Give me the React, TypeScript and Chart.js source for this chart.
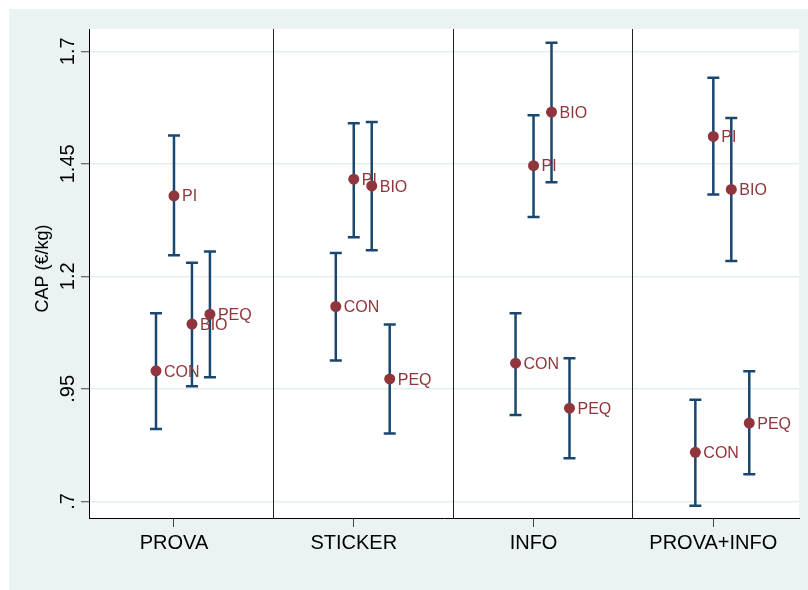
import React, { useEffect, useRef } from "react";
import { Chart, registerables } from "chart.js";

Chart.register(...registerables);

// Categories (treatments) and series
const groups = ["PROVA", "STICKER", "INFO", "PROVA+INFO"];
const seriesNames = ["CON", "PI", "BIO", "PEQ"];
const seriesOffset = [-0.1, 0, 0.1, 0.2];

// Means and confidence intervals, per series, per group
const conMean = [0.99, 1.133, 1.007, 0.809];
const conLow = [0.861, 1.013, 0.892, 0.69];
const conHigh = [1.118, 1.252, 1.118, 0.926];

const piMean = [1.379, 1.416, 1.446, 1.511];
const piLow = [1.247, 1.287, 1.332, 1.382];
const piHigh = [1.513, 1.54, 1.558, 1.641];

const bioMean = [1.094, 1.401, 1.565, 1.393];
const bioLow = [0.956, 1.258, 1.409, 1.234];
const bioHigh = [1.23, 1.543, 1.719, 1.552];

const peqMean = [1.116, 0.972, 0.907, 0.874];
const peqLow = [0.976, 0.851, 0.796, 0.76];
const peqHigh = [1.255, 1.093, 1.018, 0.989];

const yTicks = [0.7, 0.95, 1.2, 1.45, 1.7];
const yTickLabels = [".7", ".95", "1.2", "1.45", "1.7"];
const separators = [1.55, 2.55, 3.55];
const yTitle = "CAP (€/kg)";

const means = [conMean, piMean, bioMean, peqMean];
const lows = [conLow, piLow, bioLow, peqLow];
const highs = [conHigh, piHigh, bioHigh, peqHigh];

const BG = "#EAF2F3";
const NAVY = "#1A476F";
const MAROON = "#90353B";
const FONT = "'Liberation Sans', Arial, sans-serif";

export default function App() {
  const ref = useRef<HTMLCanvasElement | null>(null);

  useEffect(() => {
    const canvas = ref.current;
    if (!canvas) return;

    const datasets = seriesNames.map((name, s) => ({
      label: name,
      data: groups.map((_, g) => ({ x: g + 1 + seriesOffset[s], y: means[s][g] })),
      pointRadius: 5.5,
      pointHoverRadius: 5.5,
      pointBackgroundColor: MAROON,
      pointBorderWidth: 0,
      borderColor: MAROON,
      showLine: false,
    }));

    const decor = {
      id: "decor",
      beforeDraw(chart: any) {
        const ctx = chart.ctx;
        const a = chart.chartArea;
        ctx.save();
        ctx.fillStyle = "#ffffff";
        ctx.fillRect(0, 0, chart.width, chart.height);
        ctx.fillStyle = BG;
        ctx.fillRect(9, 9, chart.width - 9, chart.height - 9);
        ctx.fillStyle = "#ffffff";
        ctx.fillRect(a.left, a.top, a.right - a.left, a.bottom - a.top);
        ctx.restore();
      },
      beforeDatasetsDraw(chart: any) {
        const ctx = chart.ctx;
        const a = chart.chartArea;
        const xs = chart.scales.x;
        const ys = chart.scales.y;
        ctx.save();
        // panel separators
        ctx.strokeStyle = "#222";
        ctx.lineWidth = 1;
        separators.forEach((v) => {
          const px = Math.round(xs.getPixelForValue(v)) + 0.5;
          ctx.beginPath();
          ctx.moveTo(px, a.top);
          ctx.lineTo(px, a.bottom);
          ctx.stroke();
        });
        // error bars
        ctx.strokeStyle = NAVY;
        ctx.lineWidth = 2.5;
        seriesNames.forEach((_, s) => {
          groups.forEach((_, g) => {
            const px = xs.getPixelForValue(g + 1 + seriesOffset[s]);
            const yl = ys.getPixelForValue(lows[s][g]);
            const yh = ys.getPixelForValue(highs[s][g]);
            ctx.beginPath();
            ctx.moveTo(px, yl);
            ctx.lineTo(px, yh);
            ctx.moveTo(px - 6, yl);
            ctx.lineTo(px + 6, yl);
            ctx.moveTo(px - 6, yh);
            ctx.lineTo(px + 6, yh);
            ctx.stroke();
          });
        });
        ctx.restore();
      },
      afterDatasetsDraw(chart: any) {
        const ctx = chart.ctx;
        const xs = chart.scales.x;
        const ys = chart.scales.y;
        ctx.save();
        // point labels
        ctx.fillStyle = MAROON;
        ctx.font = `16px ${FONT}`;
        ctx.textAlign = "left";
        ctx.textBaseline = "alphabetic";
        seriesNames.forEach((name, s) => {
          groups.forEach((_, g) => {
            const px = xs.getPixelForValue(g + 1 + seriesOffset[s]);
            const py = ys.getPixelForValue(means[s][g]);
            ctx.fillText(name, px + 8, py + 5.7);
          });
        });
        // y tick labels (rotated)
        ctx.fillStyle = "#000";
        ctx.font = `20px ${FONT}`;
        ctx.textAlign = "center";
        yTicks.forEach((v, i) => {
          const py = ys.getPixelForValue(v);
          ctx.save();
          ctx.translate(73.5, py);
          ctx.rotate(-Math.PI / 2);
          ctx.fillText(yTickLabels[i], 0, 0);
          ctx.restore();
        });
        // y title
        ctx.font = `18px ${FONT}`;
        ctx.save();
        ctx.translate(47.5, 268.5);
        ctx.rotate(-Math.PI / 2);
        ctx.fillText(yTitle, 0, 0);
        ctx.restore();
        // x tick labels
        ctx.font = `20px ${FONT}`;
        groups.forEach((name, g) => {
          const px = xs.getPixelForValue(g + 1);
          ctx.fillText(name, px, 549);
        });
        ctx.restore();
      },
    };

    const chart = new Chart(canvas, {
      type: "scatter",
      data: { datasets },
      options: {
        animation: false,
        responsive: false,
        devicePixelRatio: 1,
        layout: { padding: { left: 0, top: 29, right: 9, bottom: 0 } },
        plugins: {
          legend: { display: false },
          tooltip: { enabled: false },
        },
        scales: {
          x: {
            type: "linear",
            min: 0.5273,
            max: 4.4766,
            afterBuildTicks: (scale: any) => {
              scale.ticks = groups.map((_, g) => ({ value: g + 1 }));
            },
            afterFit: (scale: any) => {
              scale.height = 72;
            },
            ticks: { display: false },
            grid: {
              drawOnChartArea: false,
              drawTicks: true,
              tickLength: 9,
              tickColor: "#444",
              tickWidth: 1,
            },
            border: { display: true, color: "#000", width: 1 },
          },
          y: {
            type: "linear",
            min: 0.663,
            max: 1.7496,
            afterBuildTicks: (scale: any) => {
              scale.ticks = yTicks.map((v) => ({ value: v }));
            },
            afterFit: (scale: any) => {
              scale.width = 89;
            },
            ticks: { display: false },
            grid: {
              color: "#E4EDF0",
              lineWidth: 1.5,
              drawTicks: true,
              tickLength: 8,
              tickColor: "#444",
              tickWidth: 1,
            },
            border: { display: true, color: "#000", width: 1 },
          },
        },
      },
      plugins: [decor],
    });

    return () => chart.destroy();
  }, []);

  return (
    <div style={{ position: "absolute", left: 0, top: 0, width: 808, height: 590 }}>
      <canvas ref={ref} width={808} height={590} style={{ display: "block" }} />
    </div>
  );
}
